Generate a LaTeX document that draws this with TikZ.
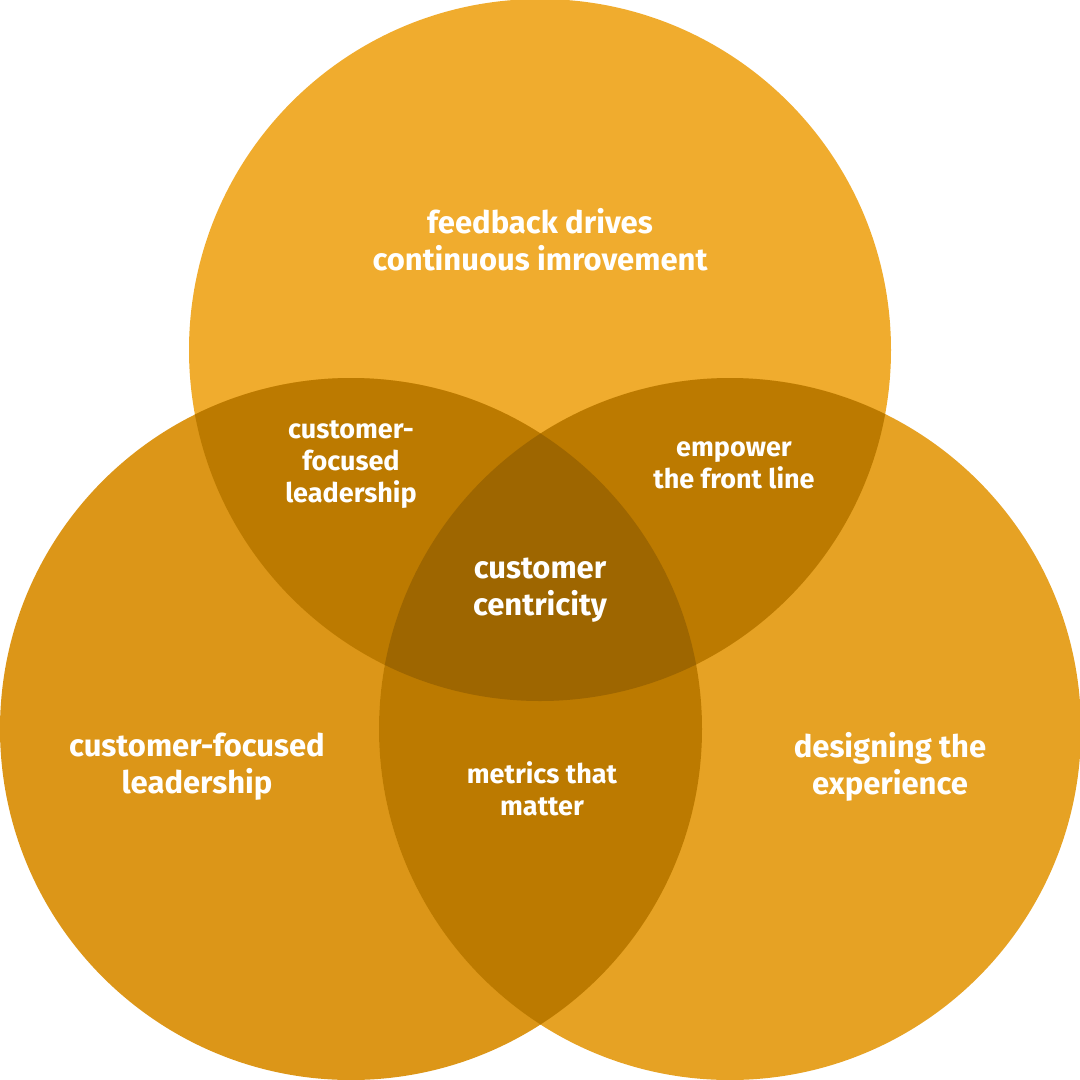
\documentclass[tikz,border=0pt]{standalone}
\usepackage{fontspec}
\setmainfont{Fira Sans}
\usetikzlibrary{positioning}
\definecolor{topfill}{HTML}{F0AC2E}
\definecolor{leftfill}{HTML}{DC9618}
\definecolor{rightfill}{HTML}{E6A224}
\definecolor{pairfill}{HTML}{BC7A00}
\definecolor{corefill}{HTML}{9E6600}
\tikzset{
    biglabel/.style={text=white, align=center, font=\fontsize{31}{37}\selectfont\bfseries},
    smalllabel/.style={text=white, align=center, font=\fontsize{27}{32}\selectfont\bfseries}
}
\begin{document}
\begin{tikzpicture}[x=1pt, y=-1pt]
    \useasboundingbox (0,0) rectangle (1080,1080);
    % Circle centres
    \coordinate (ctop) at (540,350);
    \coordinate (cleft) at (351,729);
    \coordinate (cright) at (730,729);
    \def\rad{351}

    % Circles
    \fill[topfill] (ctop) circle (\rad);
    \fill[leftfill] (cleft) circle (\rad);
    \fill[rightfill] (cright) circle (\rad);

    % Pairwise overlaps
    \begin{scope}
        \clip (ctop) circle (\rad);
        \fill[pairfill] (cleft) circle (\rad);
        \fill[pairfill] (cright) circle (\rad);
    \end{scope}
    \begin{scope}
        \clip (cleft) circle (\rad);
        \fill[pairfill] (cright) circle (\rad);
    \end{scope}

    % Centre overlap
    \begin{scope}
        \clip (ctop) circle (\rad);
        \clip (cleft) circle (\rad);
        \fill[corefill] (cright) circle (\rad);
    \end{scope}

    % Labels
    \node[biglabel] (feedback) at (540,240) {feedback drives\\continuous imrovement};
    \node[biglabel] (focusedleft) at (197,767) {customer-focused\\leadership};
    \node[biglabel] (designing) at (890,767) {designing the\\experience};
    \node[smalllabel] (focusedpair) at (351,465) {customer-\\focused\\leadership};
    \node[smalllabel] (empower) at (734,465) {empower\\the front line};
    \node[smalllabel] (metrics) at (542,789) {metrics that\\matter};
    \node[biglabel] (centricity) at (540,590) {customer\\centricity};
\end{tikzpicture}
\end{document}
